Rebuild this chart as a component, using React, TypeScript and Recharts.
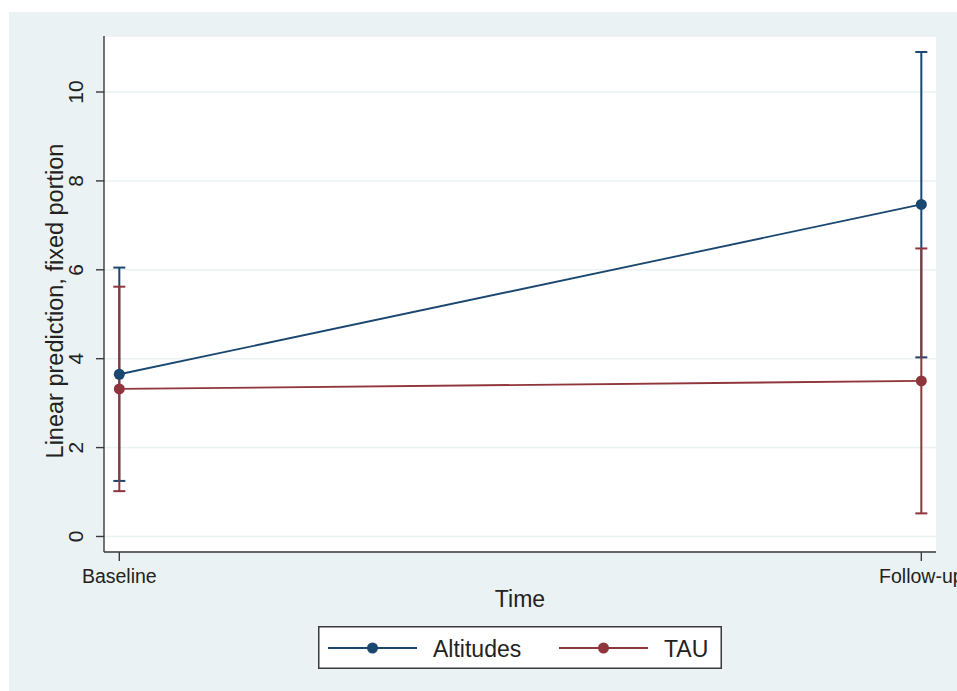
import {
  LineChart,
  Line,
  XAxis,
  YAxis,
  CartesianGrid,
  ErrorBar,
  Legend,
} from 'recharts';

const timeLabels = ['Baseline', 'Follow-up'];
const timePoints = [0, 1];

const altitudesMean = [3.65, 7.47];
const altitudesLow = [1.25, 4.03];
const altitudesHigh = [6.05, 10.9];

const tauMean = [3.32, 3.5];
const tauLow = [1.02, 0.52];
const tauHigh = [5.62, 6.48];

const yTicks = [0, 2, 4, 6, 8, 10];

const NAVY = '#1a476f';
const MAROON = '#90353b';
const BG = '#eaf2f3';
const AXIS = '#3a3a3a';
const TEXT = '#222';
const FONT = '"Liberation Sans", Arial, Helvetica, sans-serif';

const data = timePoints.map((t, i) => ({
  time: t,
  alt: altitudesMean[i],
  altErr: [altitudesMean[i] - altitudesLow[i], altitudesHigh[i] - altitudesMean[i]],
  tau: tauMean[i],
  tauErr: [tauMean[i] - tauLow[i], tauHigh[i] - tauMean[i]],
}));

const YTick = ({ x, y, payload }: any) => (
  <text
    x={x - 20}
    y={y}
    transform={`rotate(-90, ${x - 20}, ${y})`}
    textAnchor="middle"
    dominantBaseline="central"
    fontSize={21}
    fill={TEXT}
    fontFamily={FONT}
  >
    {payload.value}
  </text>
);

const XTick = ({ x, y, payload }: any) => (
  <text x={x} y={y} dy="0.71em" textAnchor="middle" fontSize={19.5} fill={TEXT} fontFamily={FONT}>
    {timeLabels[timePoints.indexOf(payload.value)]}
  </text>
);

const YTitle = ({ viewBox }: any) => {
  const cx = 55;
  const cy = viewBox.y + viewBox.height / 2 + 7;
  return (
    <text
      x={cx}
      y={cy}
      transform={`rotate(-90, ${cx}, ${cy})`}
      textAnchor="middle"
      dominantBaseline="central"
      fontSize={23.5}
      fill={TEXT}
      fontFamily={FONT}
    >
      Linear prediction, fixed portion
    </text>
  );
};

const XTitle = ({ viewBox }: any) => (
  <text
    x={viewBox.x + viewBox.width / 2}
    y={viewBox.y + 47}
    textAnchor="middle"
    dominantBaseline="central"
    fontSize={23}
    fill={TEXT}
    fontFamily={FONT}
  >
    Time
  </text>
);

const LegendBox = ({ payload }: any) => {
  const items = (payload || []).filter((p: any) => p.type !== 'none');
  return (
    <svg width={404} height={43} style={{ display: 'block' }}>
      <rect x={0.75} y={0.75} width={402.5} height={41.5} fill="#fff" stroke={AXIS} strokeWidth={1.5} />
      {items.map((p: any, i: number) => {
        const x0 = 10 + i * 231;
        return (
          <g key={p.value}>
            <line x1={x0} y1={22} x2={x0 + 89} y2={22} stroke={p.color} strokeWidth={1.8} />
            <circle cx={x0 + 44.5} cy={22} r={5.5} fill={p.color} />
            <text
              x={x0 + 105}
              y={23}
              dominantBaseline="central"
              fontSize={23}
              fill={TEXT}
              fontFamily={FONT}
            >
              {p.value}
            </text>
          </g>
        );
      })}
    </svg>
  );
};

export default function App() {
  return (
    <div style={{ position: 'absolute', left: 0, top: 0, width: 957, height: 691, overflow: 'hidden', background: '#fff' }}>
      <div style={{ position: 'absolute', left: 9, top: 12, right: 0, bottom: 0, background: BG }} />
      <div style={{ position: 'absolute', left: 0, top: 0 }}>
        <LineChart width={957} height={691} data={data} margin={{ top: 36, right: 21, bottom: 0, left: 0 }}>
          <CartesianGrid vertical={false} stroke={BG} strokeWidth={1.5} fill="#fff" />
          <XAxis
            dataKey="time"
            type="number"
            domain={[-0.0191, 1.0183]}
            ticks={timePoints}
            allowDataOverflow
            height={139}
            tickSize={9}
            tickMargin={8}
            tick={<XTick />}
            axisLine={{ stroke: AXIS, strokeWidth: 1.4 }}
            tickLine={{ stroke: AXIS, strokeWidth: 1.4 }}
            label={<XTitle />}
          />
          <YAxis
            type="number"
            domain={[-0.349, 11.26]}
            ticks={yTicks}
            allowDataOverflow
            width={104}
            tickSize={8}
            tickMargin={0}
            tick={<YTick />}
            axisLine={{ stroke: AXIS, strokeWidth: 1.4 }}
            tickLine={{ stroke: AXIS, strokeWidth: 1.4 }}
            label={<YTitle />}
          />
          <Legend
            layout="horizontal"
            verticalAlign="middle"
            align="center"
            wrapperStyle={{ left: 318, top: 626, width: 404, height: 43 }}
            content={<LegendBox />}
          />
          {/* confidence intervals first, so the lines and markers sit on top */}
          <Line dataKey="alt" stroke="none" dot={false} activeDot={false} legendType="none" isAnimationActive={false}>
            <ErrorBar dataKey="altErr" direction="y" width={6} stroke={NAVY} strokeWidth={2} isAnimationActive={false} />
          </Line>
          <Line dataKey="tau" stroke="none" dot={false} activeDot={false} legendType="none" isAnimationActive={false}>
            <ErrorBar dataKey="tauErr" direction="y" width={6} stroke={MAROON} strokeWidth={2} isAnimationActive={false} />
          </Line>
          <Line
            name="Altitudes"
            dataKey="alt"
            type="linear"
            stroke={NAVY}
            strokeWidth={1.8}
            dot={{ r: 5.5, fill: NAVY, stroke: 'none' }}
            activeDot={false}
            isAnimationActive={false}
          />
          <Line
            name="TAU"
            dataKey="tau"
            type="linear"
            stroke={MAROON}
            strokeWidth={1.8}
            dot={{ r: 5.5, fill: MAROON, stroke: 'none' }}
            activeDot={false}
            isAnimationActive={false}
          />
        </LineChart>
      </div>
    </div>
  );
}
